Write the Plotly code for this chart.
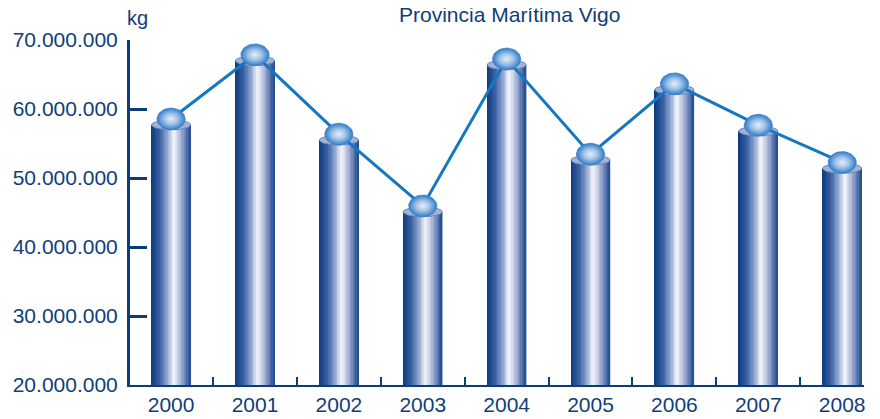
import numpy as np
import plotly.graph_objects as go

# ---------------- data ----------------
years = ['2000', '2001', '2002', '2003', '2004', '2005', '2006', '2007', '2008']
values_kg = [57.7e6, 67.0e6, 55.5e6, 45.1e6, 66.4e6, 52.6e6, 62.8e6, 56.8e6, 51.4e6]
y_tick_values = [20e6, 30e6, 40e6, 50e6, 60e6, 70e6]
title_text = 'Provincia Marítima Vigo'
unit_text = 'kg'

# ---------------- style ----------------
FONT = 'Liberation Sans, Arial, sans-serif'
TEXT_COL = '#0f3e78'
AXIS_COL = '#0b3d78'
BAR_W = 0.465
N_STRIPS = 30
CAP_HALF_H = 0.72e6      # half height of the top ellipse (data units)
SPHERE_LIFT = 0.85e6     # sphere centre above bar top (data units)
SPH_HALF_W = 0.168       # sphere half width (category units)
SPH_HALF_H = 1.58e6      # sphere half height (data units)

stops = [(0.00, '#0b3a7c'), (0.22, '#3a61a2'), (0.42, '#93a8d2'),
         (0.57, '#f4f6fb'), (0.70, '#c2cbe3'), (0.84, '#7d90c1'),
         (1.00, '#1c4a8d')]


def hex2rgb(h):
    h = h.lstrip('#')
    return np.array([int(h[i:i + 2], 16) for i in (0, 2, 4)], dtype=float)


def grad(t):
    for (t0, c0), (t1, c1) in zip(stops[:-1], stops[1:]):
        if t0 <= t <= t1:
            f = (t - t0) / (t1 - t0) if t1 > t0 else 0
            c = hex2rgb(c0) * (1 - f) + hex2rgb(c1) * f
            return 'rgb(%d,%d,%d)' % tuple(np.round(c))
    return stops[-1][1]


xs = np.arange(len(years))
vals = np.array(values_kg)

fig = go.Figure()

# cylinder bodies: side-by-side strips forming a horizontal gradient
sw = BAR_W / N_STRIPS
for i in range(N_STRIPS):
    fig.add_trace(go.Bar(
        x=xs, y=vals, width=sw * 1.15, offset=-BAR_W / 2 + i * sw,
        marker=dict(color=grad((i + 0.5) / N_STRIPS), line=dict(width=0)),
        hoverinfo='skip', showlegend=False))

# top ellipses (caps)
t = np.linspace(0, 2 * np.pi, 48)
cx, cy = [], []
for xi, v in zip(xs, vals):
    cx += list(xi + BAR_W / 2 * np.cos(t)) + [None]
    cy += list(v + CAP_HALF_H * np.sin(t)) + [None]
fig.add_trace(go.Scatter(x=cx, y=cy, mode='lines', fill='toself',
                         fillcolor='#a3b2d5', line=dict(color='#6f86bb', width=1),
                         hoverinfo='skip', showlegend=False))

# connecting line
fig.add_trace(go.Scatter(x=xs, y=vals + SPHERE_LIFT, mode='lines',
                         line=dict(color='#1577c0', width=3),
                         hoverinfo='skip', showlegend=False, cliponaxis=False))

# spheres (slightly flattened domes with radial shading)
for xi, v in zip(xs, vals):
    yc = v + SPHERE_LIFT
    fig.add_trace(go.Scatter(
        x=xi + SPH_HALF_W * np.cos(t), y=yc + SPH_HALF_H * np.sin(t),
        mode='lines', fill='toself',
        fillgradient=dict(type='radial',
                          colorscale=[[0, '#e6eef9'], [0.5, '#9dc0e6'], [1, '#2f7cc8']]),
        line=dict(color='#3a84cc', width=0.8),
        hoverinfo='skip', showlegend=False, cliponaxis=False))

# page body has an 8px default margin: margins compensate for it
fig.update_layout(
    width=880, height=419,
    margin=dict(l=122, r=24, t=32, b=42),
    plot_bgcolor='white', paper_bgcolor='white',
    barmode='overlay', separators=',.',
    font=dict(family=FONT, color=TEXT_COL),
    xaxis=dict(range=[-0.49, 8.26], tickvals=list(xs), ticktext=years,
               ticks='', showgrid=False, zeroline=False, automargin=False,
               showline=True, linecolor=AXIS_COL, linewidth=2,
               tickfont=dict(size=21, color=TEXT_COL),
               minor=dict(tickvals=list(xs[:-1] + 0.5), ticks='inside',
                          ticklen=8, tickwidth=2, tickcolor=AXIS_COL)),
    yaxis=dict(range=[20e6, 70e6], tickvals=y_tick_values, tickformat=',d',
               ticks='inside', ticklen=17, tickwidth=3, tickcolor=AXIS_COL,
               showline=True, linecolor=AXIS_COL, linewidth=3,
               showgrid=False, zeroline=False, automargin=False,
               ticklabelstandoff=5,
               tickfont=dict(size=21, color=TEXT_COL)),
    annotations=[
        dict(text=unit_text, xref='paper', yref='paper',
             x=7 / 734, y=(385 - 18) / 345, xanchor='center',
             yanchor='middle', showarrow=False,
             font=dict(size=20, color=TEXT_COL, family=FONT)),
        dict(text=title_text, xref='paper', yref='paper',
             x=(509 - 130) / 734, y=(385 - 15) / 345, xanchor='center',
             yanchor='middle', showarrow=False, borderpad=0,
             font=dict(size=21, color=TEXT_COL, family=FONT)),
    ],
)

fig.write_html('out.html')
